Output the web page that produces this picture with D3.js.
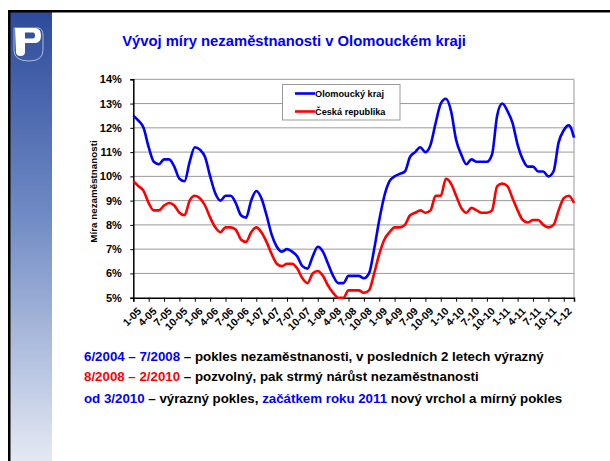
<!DOCTYPE html>
<html>
<head>
<meta charset="utf-8">
<script src="https://cdn.jsdelivr.net/npm/d3@7"></script>
<style>
  body { margin: 0; background: #fff; }
  text { font-family: Arial, "Liberation Sans", sans-serif; font-weight: bold; }
</style>
</head>
<body>
<div id="chart"></div>
<script>
  // unemployment rate, monthly 1-05 .. 3-12
  const years = ["05", "06", "07", "08", "09", "10", "11", "12"];
  const tickLabels = ["1-05","4-05","7-05","10-05","1-06","4-06","7-06","10-06","1-07","4-07","7-07","10-07",
    "1-08","4-08","7-08","10-08","1-09","4-09","7-09","10-09","1-10","4-10","7-10","10-10","1-11","4-11","7-11","10-11","1-12"];
  const olomouc = [12.5,12.3,12.0,11.2,10.6,10.5,10.7,10.7,10.4,9.9,9.8,10.6,
    11.2,11.1,10.8,10.0,9.3,9.0,9.2,9.2,8.9,8.4,8.3,9.0,
    9.4,9.1,8.4,7.6,7.1,6.9,7.0,6.9,6.7,6.3,6.2,6.7,
    7.1,6.9,6.4,5.9,5.6,5.6,5.9,5.9,5.9,5.8,6.0,7.0,
    8.2,9.2,9.8,10.0,10.1,10.2,10.8,11.0,11.2,11.0,11.3,12.2,
    13.0,13.2,12.7,11.5,10.9,10.5,10.7,10.6,10.6,10.6,10.9,12.5,
    13.0,12.7,12.2,11.3,10.7,10.4,10.4,10.2,10.2,10.0,10.2,11.4,
    11.9,12.1,11.6];
  const cr = [9.8,9.6,9.4,8.9,8.6,8.6,8.8,8.9,8.8,8.5,8.4,9.0,
    9.2,9.1,8.8,8.3,7.9,7.7,7.9,7.9,7.8,7.4,7.3,7.7,
    7.9,7.7,7.3,6.8,6.4,6.3,6.4,6.4,6.2,5.8,5.6,6.0,
    6.1,5.9,5.5,5.2,5.0,5.0,5.3,5.3,5.3,5.2,5.3,6.0,
    6.8,7.4,7.7,7.9,7.9,8.0,8.4,8.5,8.6,8.5,8.6,9.2,
    9.2,9.9,9.7,9.2,8.7,8.5,8.7,8.6,8.5,8.5,8.6,9.6,
    9.7,9.6,9.1,8.6,8.2,8.1,8.2,8.2,8.0,7.9,8.0,8.6,
    9.1,9.2,8.9];
  const seriesNames = ["Olomoucký kraj", "Česká republika"];
  const seriesColors = ["#0000ff", "#ff0000"];

  // month categories built from the year list
  let months = [];
  years.forEach(function(y){
    for (let m = 1; m <= 12; m++) months.push(m + "-" + y);
  });
  months = months.slice(0, olomouc.length);

  const W = 610, H = 461,
    plot = {left: 133.3, right: 574, top: 79.3, bottom: 297.7},
    font = "Arial, 'Liberation Sans', sans-serif";

  const svg = d3.select("#chart").append("svg")
      .attr("width", W)
      .attr("height", H);

  //slide frame and left strip
  const grad = svg.append("defs").append("linearGradient")
      .attr("id", "strip").attr("x1", 0).attr("y1", 0).attr("x2", 0).attr("y2", 1);
  grad.append("stop").attr("offset", "0%").attr("stop-color", "#2e4b9b");
  grad.append("stop").attr("offset", "45%").attr("stop-color", "#6f8ac4");
  grad.append("stop").attr("offset", "100%").attr("stop-color", "#e4e9f3");

  svg.append("rect").attr("x", 10).attr("y", 12).attr("width", 42).attr("height", H - 12)
      .attr("fill", "url(#strip)");
  svg.append("rect").attr("x", 8).attr("y", 10).attr("width", W - 8).attr("height", 2.5).attr("fill", "#000");
  svg.append("rect").attr("x", 8).attr("y", 10).attr("width", 2.5).attr("height", H - 10).attr("fill", "#000");

  //logo
  svg.append("path")
      .attr("d", "M14,28 H38 Q43,28 43,36 V50 Q43,61 29,61 Q14,61 14,50 Z")
      .attr("fill", "none").attr("stroke", "#c9d3ec").attr("stroke-width", 0.8);
  svg.append("path")
      .attr("d", "M15,28 H35 Q41,28 41,35.5 Q41,43 35,43 H25 V52 Q25,56 20.5,56 Q16,56 16,52 Z M25,32.5 V38.5 H33 Q35,38.5 35,35.5 Q35,32.5 33,32.5 Z")
      .attr("fill", "#fff").attr("fill-rule", "evenodd");

  //title
  svg.append("text")
      .attr("x", 294).attr("y", 46)
      .attr("text-anchor", "middle")
      .attr("font-size", 14.8)
      .attr("fill", "#0000ff")
      .text("Vývoj míry nezaměstnanosti v Olomouckém kraji");

  const x = d3.scalePoint().domain(months).range([plot.left, plot.right]);
  const y = d3.scaleLinear().domain([5, 14]).range([plot.bottom, plot.top]);

  //gridlines and plot frame
  svg.append("g").selectAll("line")
      .data(y.ticks(9).filter(d => d > 5))
      .enter().append("line")
        .attr("x1", plot.left).attr("x2", plot.right)
        .attr("y1", d => y(d)).attr("y2", d => y(d))
        .attr("stroke", "#9a9a9a").attr("stroke-width", 1);
  svg.append("line")
      .attr("x1", plot.right).attr("x2", plot.right)
      .attr("y1", plot.top).attr("y2", plot.bottom)
      .attr("stroke", "#9a9a9a");

  //axes
  const yAxis = svg.append("g")
      .attr("transform", "translate(" + plot.left + ",0)")
      .call(d3.axisLeft(y).ticks(9).tickSize(3).tickPadding(8.5).tickFormat(d => d + "%"));
  yAxis.selectAll("text")
      .attr("font-size", 11).attr("fill", "#000")
      .style("font-family", font).style("font-weight", "bold");

  const xAxis = svg.append("g")
      .attr("transform", "translate(0," + plot.bottom + ")")
      .call(d3.axisBottom(x).tickValues(tickLabels).tickSize(4));
  xAxis.selectAll("text")
      .attr("font-size", 10.5)
      .attr("fill", "#000")
      .style("font-family", font).style("font-weight", "bold")
      .attr("text-anchor", "end")
      .attr("dy", "0.7em")
      .attr("transform", "translate(3,9) rotate(-45)")
      .attr("y", 0).attr("x", 0);
  svg.selectAll(".domain").attr("stroke", "#000").attr("stroke-width", 1.5);
  svg.selectAll(".tick line").attr("stroke", "#000");

  svg.append("text")
      .attr("transform", "translate(97," + ((plot.top + plot.bottom) / 2 + 3) + ") rotate(-90)")
      .attr("text-anchor", "middle")
      .attr("font-size", 9.8)
      .text("Míra nezaměstnanosti");

  //lines
  const line = d3.line()
      .x((d, i) => x(months[i]))
      .y(d => y(d))
      .curve(d3.curveMonotoneX);

  [olomouc, cr].forEach(function(s, k){
    svg.append("path")
        .datum(s)
        .attr("d", line)
        .attr("fill", "none")
        .attr("stroke", seriesColors[k])
        .attr("stroke-width", 2.6)
        .attr("stroke-linejoin", "round");
  });

  //legend
  const legend = svg.append("g");
  legend.append("rect")
      .attr("x", 282.5).attr("y", 84.5).attr("width", 117.5).attr("height", 35.5)
      .attr("fill", "#fff").attr("stroke", "#9a9a9a");
  seriesNames.forEach(function(n, k){
    const ly = 93.5 + k * 18;
    legend.append("line")
        .attr("x1", 295).attr("x2", 315).attr("y1", ly).attr("y2", ly)
        .attr("stroke", seriesColors[k]).attr("stroke-width", 2.6);
    legend.append("text")
        .attr("x", 315).attr("y", ly + 3.3)
        .attr("font-size", 9.2)
        .text(n);
  });

  //notes below the chart
  const notes = [
    [["6/2004 – 7/2008", "#0000ff"], [" – pokles nezaměstnanosti, v posledních 2 letech výrazný", "#000"]],
    [["8/2008 – 2/2010", "#ff0000"], [" – pozvolný, pak strmý nárůst nezaměstnanosti", "#000"]],
    [["od 3/2010", "#0000ff"], [" – výrazný pokles, ", "#000"], ["začátkem roku 2011", "#0000ff"], [" nový vrchol a mírný pokles", "#000"]]
  ];
  const noteY = [361, 381, 403];
  notes.forEach(function(parts, i){
    const t = svg.append("text")
        .attr("x", 84).attr("y", noteY[i])
        .attr("font-size", 13.3);
    parts.forEach(function(p){
      t.append("tspan").attr("fill", p[1]).text(p[0]);
    });
  });
</script>
</body>
</html>
